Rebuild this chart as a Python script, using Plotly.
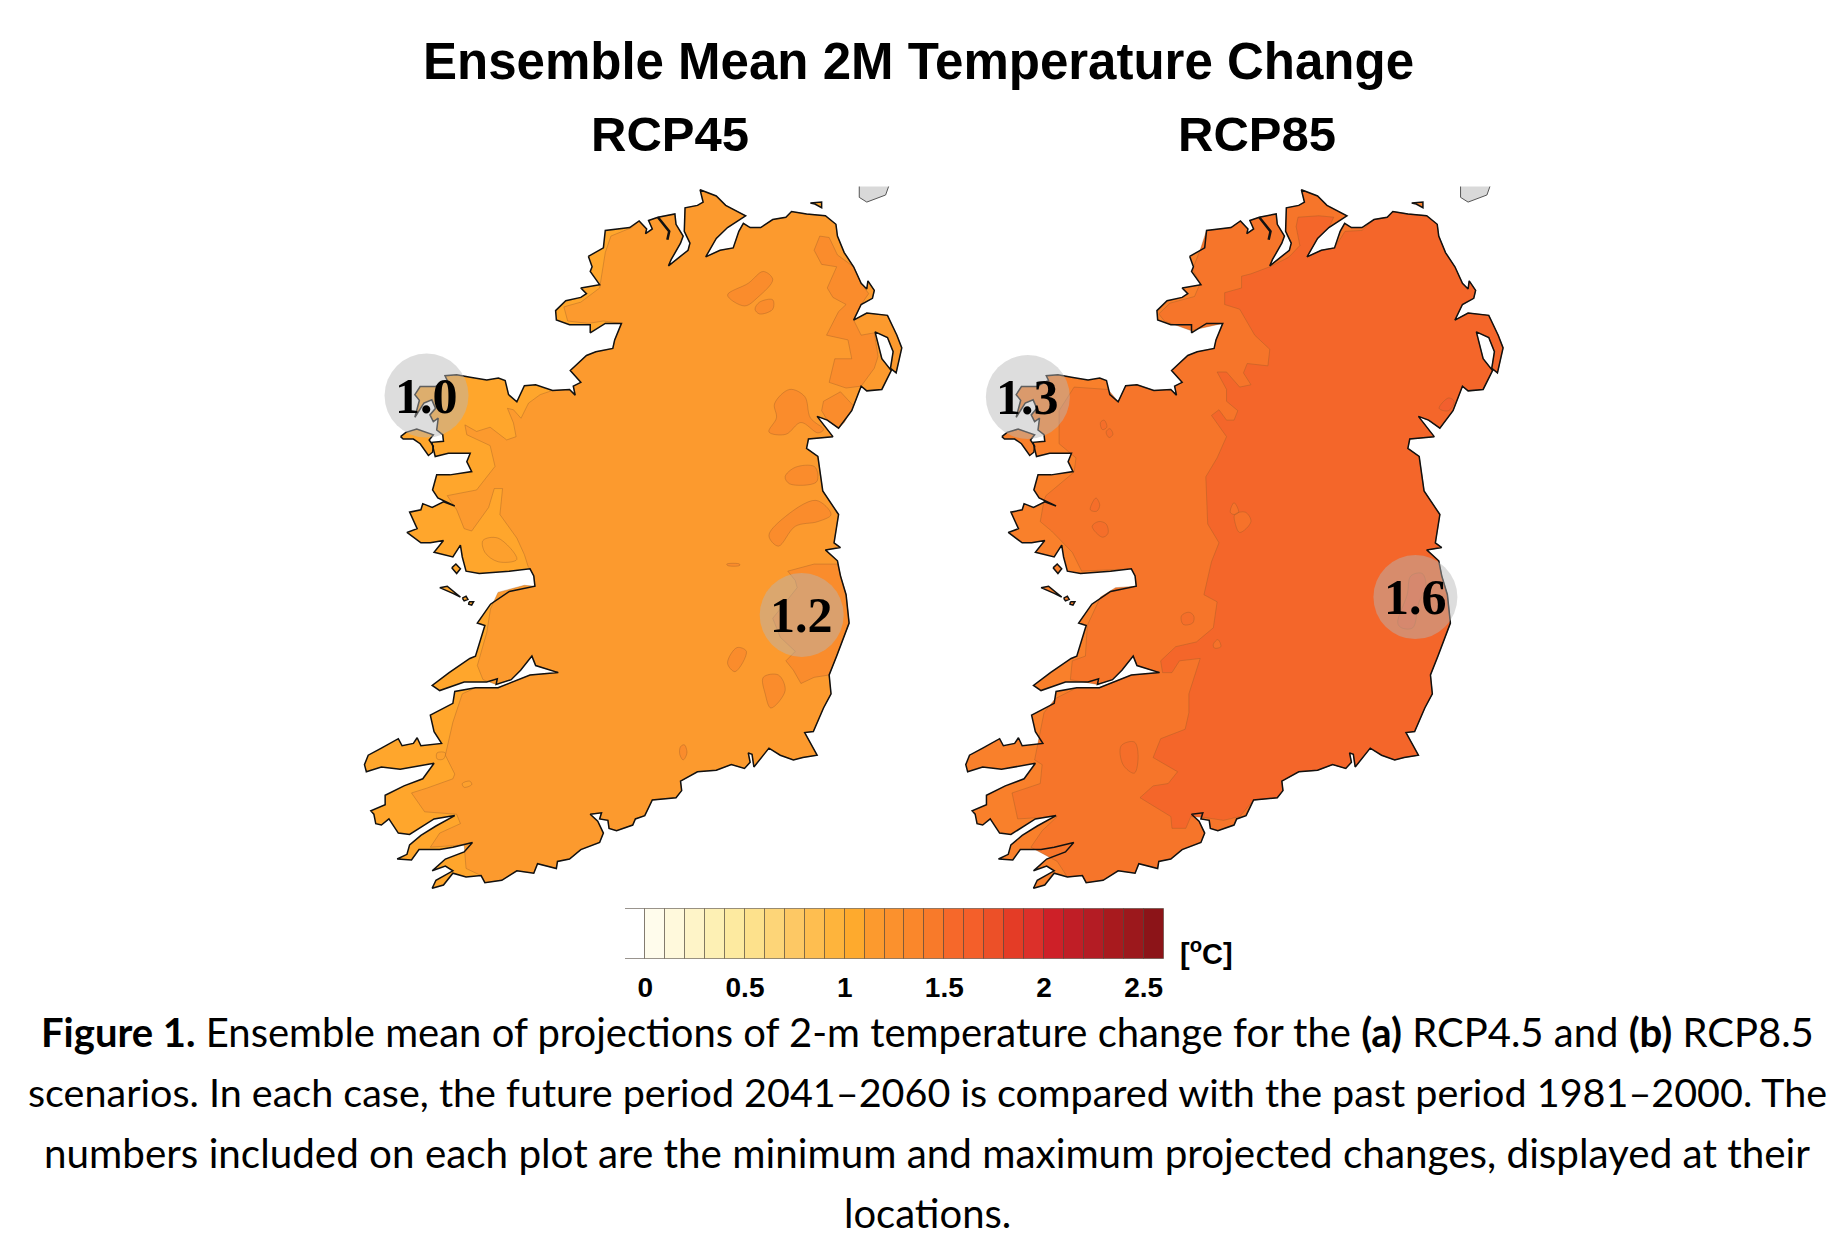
import plotly.graph_objects as go

W, H = 1840, 1246

# Map outlines (map units, y runs downwards)
coast = [
    (660, 183), (700, 165), (705, 128), (770, 122), (795, 108), (815, 125), (812, 135), (830, 125), (820, 107),
    (845, 100), (890, 93), (893, 115), (912, 140), (905, 155), (880, 190), (873, 203), (925, 170), (930, 155),
    (915, 130), (917, 80), (950, 75), (965, 68), (957, 42), (1000, 55), (1025, 75), (1078, 97), (1030, 122),
    (1000, 145), (972, 184), (1010, 170), (1045, 165), (1060, 130), (1072, 113), (1090, 122), (1118, 122),
    (1150, 105), (1185, 100), (1200, 88), (1240, 93), (1290, 97), (1318, 115), (1322, 140), (1340, 175),
    (1365, 205), (1385, 240), (1400, 252), (1403, 235), (1420, 255), (1415, 272), (1385, 285), (1365, 318),
    (1400, 303), (1455, 308), (1480, 350), (1493, 377), (1478, 430), (1463, 420), (1470, 385), (1455, 355),
    (1422, 343), (1440, 400), (1465, 425), (1440, 465), (1400, 468), (1385, 458), (1360, 510), (1325, 547),
    (1295, 530), (1268, 522), (1310, 565), (1245, 570), (1240, 590), (1270, 607), (1283, 680), (1325, 730),
    (1313, 790), (1330, 800), (1290, 805), (1322, 828), (1330, 860), (1345, 900), (1353, 960), (1320, 1030),
    (1300, 1070), (1305, 1110), (1285, 1140), (1258, 1190), (1235, 1192), (1268, 1240), (1230, 1245),
    (1205, 1250), (1170, 1240), (1140, 1225), (1100, 1265), (1095, 1238), (1085, 1235), (1090, 1255),
    (1075, 1268), (1040, 1260), (1000, 1272), (950, 1275), (905, 1295), (908, 1315), (893, 1330), (830, 1335),
    (810, 1368), (785, 1375), (778, 1388), (735, 1400), (715, 1395), (712, 1378), (690, 1375), (695, 1362),
    (665, 1365), (685, 1380), (700, 1405), (690, 1425), (640, 1440), (610, 1460), (578, 1465), (575, 1480),
    (525, 1470), (515, 1490), (470, 1485), (430, 1505), (385, 1510), (375, 1495), (335, 1498), (300, 1490),
    (275, 1515), (245, 1522), (255, 1505), (300, 1485), (280, 1475), (245, 1485), (280, 1460), (330, 1445),
    (352, 1425), (300, 1435), (265, 1440), (210, 1440), (190, 1462), (152, 1460), (178, 1450), (185, 1430),
    (215, 1410), (255, 1390), (305, 1368), (250, 1375), (210, 1395), (185, 1408), (155, 1405), (130, 1375),
    (110, 1388), (95, 1385), (90, 1365), (82, 1358), (120, 1345), (120, 1325), (170, 1305), (220, 1290),
    (250, 1257), (160, 1270), (110, 1265), (70, 1275), (65, 1260), (75, 1240), (110, 1225), (155, 1205),
    (165, 1220), (195, 1215), (205, 1203), (215, 1220), (270, 1215), (250, 1190), (240, 1155), (300, 1130),
    (305, 1105), (360, 1097), (420, 1097), (505, 1070), (580, 1065), (520, 1050), (510, 1030), (480, 1060),
    (455, 1080), (415, 1090), (418, 1078), (390, 1085), (330, 1085), (265, 1103), (245, 1092), (290, 1065),
    (345, 1035), (360, 1030), (385, 965), (365, 960), (400, 920), (450, 893), (518, 882), (515, 860),
    (505, 845), (450, 850), (370, 855), (335, 850), (325, 820), (320, 795), (300, 820), (250, 810), (275, 785),
    (240, 790), (215, 790), (178, 768), (205, 760), (185, 725), (215, 720), (220, 707), (245, 715), (275, 703),
    (305, 712), (260, 695), (246, 678), (257, 646), (292, 646), (350, 639), (337, 618), (346, 600), (288, 600),
    (253, 607), (244, 577), (275, 575), (273, 561), (257, 551), (261, 526), (248, 533), (239, 519), (254, 505),
    (244, 487), (223, 494), (199, 524), (211, 488), (199, 476), (213, 459), (253, 459), (285, 446), (279, 436),
    (310, 434), (346, 439), (390, 445), (421, 441), (439, 446), (448, 476), (470, 491), (490, 457), (520, 455),
    (565, 467), (610, 465), (625, 477), (620, 458), (640, 450), (612, 425), (655, 393), (680, 385), (725, 378),
    (730, 360), (748, 325), (705, 325), (665, 345), (665, 328), (610, 328), (575, 318), (573, 298), (600, 277),
    (640, 270), (655, 262), (640, 250), (690, 243), (665, 215), (670, 205),
]
islands = [
    [(161, 565), (175, 556), (204, 549), (248, 561), (237, 572), (248, 585), (246, 598), (235, 605), (213, 580),
     (195, 570), (168, 570)],
    [(297, 843), (308, 835), (320, 845), (310, 855)],
    [(265, 885), (285, 882), (320, 905), (300, 897)],
    [(325, 907), (335, 903), (340, 910), (330, 913)],
    [(343, 915), (355, 915), (350, 922), (342, 920)],
    [(1250, 70), (1280, 68), (1280, 80), (1262, 72)],
]
scotland = [(1458, 35), (1450, 53), (1400, 68), (1380, 58), (1380, 35)]
swilly = [(845, 100), (875, 130), (870, 148)]

# RCP45 contours
west45_a = [(335, 1480), (330, 1430), (240, 1435), (265, 1405), (320, 1385), (310, 1365), (225, 1360), (190, 1320),
            (230, 1310), (300, 1290), (305, 1280), (280, 1240), (300, 1170), (325, 1110)]
west45_b = [(380, 1080), (365, 1050), (390, 980), (400, 930), (420, 895), (490, 880)]
west45_c = [(500, 840), (490, 815), (470, 780), (425, 730), (432, 675), (410, 675), (395, 715), (350, 765), (330, 760),
            (310, 720), (285, 690), (363, 678), (412, 628), (399, 584), (337, 561), (332, 540), (363, 554), (399, 545),
            (443, 572), (468, 565), (461, 536), (445, 505), (461, 508), (481, 526), (501, 494), (532, 476)]
west45_d = [(700, 320), (660, 325), (605, 320), (595, 290), (640, 280), (690, 250), (705, 175), (720, 140), (775, 122)]
dark45_coastal = [
    [(1260, 170), (1275, 140), (1300, 143), (1322, 180), (1365, 205), (1385, 240), (1405, 262), (1385, 285), (1365, 318),
     (1385, 350), (1420, 345), (1430, 395), (1420, 420), (1385, 458), (1345, 462), (1300, 450), (1315, 400), (1360, 400),
     (1350, 360), (1293, 350), (1325, 300), (1345, 285), (1310, 270), (1295, 250), (1320, 205), (1280, 200)],
    [(1285, 490), (1330, 470), (1365, 500), (1340, 535), (1325, 547), (1295, 530), (1280, 510)],
    [(1190, 850), (1260, 835), (1322, 835), (1345, 900), (1353, 960), (1320, 1030), (1300, 1070), (1260, 1075), (1225, 1088),
     (1205, 1060), (1185, 1040), (1210, 1020), (1170, 990), (1150, 950), (1180, 920), (1215, 885), (1210, 870)],
]
dark45 = [
    [(1030, 265), (1085, 240), (1125, 215), (1150, 232), (1110, 270), (1075, 288)],
    [(1103, 295), (1115, 280), (1150, 275), (1150, 295), (1115, 305)],
    [(1155, 495), (1195, 465), (1235, 480), (1250, 525), (1285, 550), (1270, 557), (1225, 535), (1185, 560), (1140, 555),
     (1160, 525)],
    [(1183, 650), (1210, 630), (1260, 628), (1270, 645), (1265, 662), (1195, 665)],
    [(1140, 775), (1175, 740), (1265, 700), (1305, 730), (1270, 745), (1210, 755), (1165, 797)],
    [(1028, 835), (1062, 835), (1062, 838), (1030, 838)],
    [(1030, 1045), (1055, 1012), (1080, 1020), (1050, 1063)],
    [(1125, 1075), (1165, 1070), (1183, 1103), (1145, 1140), (1130, 1110)],
    [(905, 1222), (915, 1218), (922, 1235), (912, 1250), (903, 1238)],
]
light45 = [
    [(380, 785), (420, 780), (470, 825), (420, 830), (385, 810)],
    [(325, 1300), (345, 1295), (350, 1302), (330, 1308)],
    [(258, 1235), (280, 1235), (275, 1248), (258, 1248)],
]

# RCP85 contours
west85_a = [(308, 1465), (238, 1435), (268, 1400), (308, 1370), (203, 1375), (188, 1320), (263, 1300), (268, 1260),
            (248, 1250), (273, 1150), (303, 1120)]
west85_b = [(343, 1080), (348, 1040), (383, 1030), (388, 965), (423, 905), (463, 885)]
west85_c = [(503, 845), (373, 850), (348, 810), (293, 765), (263, 745), (273, 700), (278, 690), (353, 640), (358, 610),
            (313, 580), (313, 510), (353, 460), (443, 465)]
west85_d = [(663, 340), (593, 320), (578, 305), (608, 282), (673, 268), (688, 240), (668, 210), (690, 165)]
east85_a = [(793, 1370), (750, 1378), (700, 1372), (663, 1370), (650, 1395), (613, 1395), (610, 1370), (528, 1330),
            (563, 1305), (603, 1300), (628, 1275), (563, 1245), (583, 1205), (648, 1185), (658, 1150), (658, 1110),
            (688, 1035), (633, 1040), (613, 1065), (588, 1065), (583, 1040), (623, 1010), (678, 1000), (723, 970),
            (733, 915), (698, 900), (718, 830), (738, 790), (708, 750), (703, 650), (733, 610), (758, 565), (718, 520),
            (738, 508), (758, 530), (778, 530), (788, 510), (758, 490), (758, 465), (733, 428), (758, 428), (793, 460),
            (823, 455), (803, 430), (813, 410), (868, 415), (873, 380), (833, 350), (793, 295), (753, 285), (753, 260),
            (798, 250), (798, 225), (823, 220), (873, 205), (923, 185), (953, 160), (943, 120), (948, 100), (1003, 97),
            (1043, 100)]
east85_b = [(1073, 130), (1118, 128)]
dark85 = [
    [(478, 1220), (513, 1212), (523, 1240), (513, 1278), (483, 1260)],
    [(638, 945), (658, 937), (671, 945), (668, 960), (643, 963)],
    [(423, 535), (433, 530), (440, 545), (428, 550)],
    [(438, 555), (448, 548), (456, 560), (446, 567)],
    [(396, 720), (411, 695), (421, 710), (413, 723)],
    [(401, 755), (418, 745), (438, 750), (443, 770), (428, 778)],
]
light85 = [
    [(768, 725), (778, 705), (790, 725), (778, 730)],
    [(780, 730), (808, 725), (823, 745), (793, 768), (780, 745)],
    [(723, 1005), (735, 995), (743, 1010), (726, 1013)],
]
red85 = [
    [(1323, 505), (1348, 483), (1363, 490), (1348, 510)],
    [(1213, 960), (1238, 900), (1248, 860), (1278, 855), (1288, 880), (1268, 920), (1253, 970), (1223, 970)],
]

# Minimum and maximum of each scenario
labels45 = ["1.0", "1.2"]
labels_x45 = [230, 1227]
labels_y45 = [478, 943]
labels85 = ["1.3", "1.6"]
labels_x85 = [230, 1260]
labels_y85 = [481, 905]

# Colour bar
levels = [-0.05 + 0.1 * i for i in range(27)]
level_colors = [
    "#ffffff", "#fffcec", "#fff9dc", "#fef4c8", "#fdf0b4", "#fdeaa0", "#fde18c", "#fdd578", "#fdc864", "#febe50",
    "#feb43c", "#feaa2d", "#fc9a2e", "#fb912d", "#fa872b", "#f87a2a", "#f6682a", "#f45f2a", "#ec5028", "#e43c26",
    "#dc302a", "#ce2028", "#c01e26", "#b41c24", "#a81a1e", "#9c181c", "#8c1418",
]
tick_vals = [0, 0.5, 1, 1.5, 2, 2.5]
tick_text = ["0", "0.5", "1", "1.5", "2", "2.5"]

title = "Ensemble Mean 2M Temperature Change"
caption = [
    "<b>Figure 1.</b> Ensemble mean of projections of 2-m temperature change for the <b>(a)</b> RCP4.5 and <b>(b)</b> RCP8.5",
    "scenarios. In each case, the future period 2041–2060 is compared with the past period 1981–2000. The",
    "numbers included on each plot are the minimum and maximum projected changes, displayed at their",
    "locations.",
]
caption_y = [1032, 1091, 1152, 1213]
caption_size = [40, 39.5, 40.4, 40]

SANS = "Liberation Sans"
SERIF = "Liberation Serif"
CONTOUR = "rgba(150,90,40,0.35)"


def part(a, b):
    return coast[coast.index(a):coast.index(b) + 1]


def join(polys):
    xs, ys = [], []
    for poly in polys:
        xs += [p[0] for p in poly] + [poly[0][0], None]
        ys += [p[1] for p in poly] + [poly[0][1], None]
    return xs, ys


def px_x(a, b):
    return [a / W, b / W]


def px_y(a, b):
    return [1 - b / H, 1 - a / H]


fig = go.Figure()


def add_fill(polys, color, ax, line=CONTOUR, width=1, shape="linear"):
    xs, ys = join(polys)
    fig.add_trace(go.Scatter(x=xs, y=ys, mode="lines", fill="toself", fillcolor=color, hoverinfo="skip",
                             line=dict(color=line, width=width, shape=shape), xaxis="x" + ax, yaxis="y" + ax))


def add_line(points, color, width, ax):
    fig.add_trace(go.Scatter(x=[p[0] for p in points], y=[p[1] for p in points], mode="lines", hoverinfo="skip",
                             line=dict(color=color, width=width), xaxis="x" + ax, yaxis="y" + ax))


# left map
add_fill([coast] + islands, "#ffa62c", "", line="rgba(0,0,0,0)")
add_fill([part((795, 108), (375, 1495)) + west45_a + part((360, 1097), (415, 1090)) + west45_b
          + part((518, 882), (505, 845)) + west45_c + part((565, 467), (748, 325)) + west45_d], "#fc9a2e", "")
add_fill(dark45_coastal, "#fa8c2c", "")
add_fill(dark45, "#fa8c2c", "", shape="spline")
add_fill(light45, "#fda02d", "", shape="spline")

# right map
add_fill([coast] + islands, "#f9802b", "2", line="rgba(0,0,0,0)")
add_fill([part((705, 128), (335, 1498)) + west85_a + part((360, 1097), (415, 1090)) + west85_b
          + part((518, 882), (505, 845)) + west85_c + part((470, 491), (748, 325)) + west85_d], "#f6752a", "2")
add_fill([part((1150, 105), (830, 1335)) + east85_a + part((1030, 122), (1045, 165)) + east85_b], "#f4662a", "2")
add_fill(dark85, "#f56e2a", "2", shape="spline")
add_fill(light85, "#f6722a", "2", shape="spline")
add_fill(red85, "#f25f2e", "2", shape="spline")

annotations = [
    dict(text="<b>%s</b>" % title, x=918 / W, y=1 - 62 / H, font=dict(family=SANS, size=51, color="black")),
    dict(text="<b>RCP45</b>", x=670 / W, y=1 - 134 / H, font=dict(family=SANS, size=49, color="black")),
    dict(text="<b>RCP85</b>", x=1257 / W, y=1 - 134 / H, font=dict(family=SANS, size=49, color="black")),
    dict(text="<b>[<sup>o</sup>C]</b>", x=1206 / W, y=1 - 952 / H, font=dict(family=SANS, size=29, color="black")),
]
for line, y, size in zip(caption, caption_y, caption_size):
    annotations.append(dict(text=line, x=927 / W, y=1 - y / H, font=dict(family="Lato", size=size, color="black")))
for a in annotations:
    a.update(xref="paper", yref="paper", showarrow=False, xanchor="center", yanchor="middle")

for ax, labels, lx, ly in [("", labels45, labels_x45, labels_y45), ("2", labels85, labels_x85, labels_y85)]:
    add_fill([scotland], "#d9d9d9", ax, line="rgba(0,0,0,0)")
    add_line(scotland, "#555555", 1, ax)
    xs, ys = join([coast] + islands)
    fig.add_trace(go.Scatter(x=xs, y=ys, mode="lines", line=dict(color="#111111", width=1.5), hoverinfo="skip",
                             xaxis="x" + ax, yaxis="y" + ax))
    add_line(swilly, "#111111", 2.5, ax)
    fig.add_trace(go.Scatter(x=lx, y=ly, mode="markers", hoverinfo="skip", xaxis="x" + ax, yaxis="y" + ax,
                             marker=dict(size=84, color="rgba(182,182,182,0.47)", line=dict(width=0))))
    for x, y, label in zip(lx, ly, labels):
        annotations.append(dict(text="<b>%s</b>" % label, x=x, y=y, xref="x" + ax, yref="y" + ax, showarrow=False,
                                font=dict(family=SERIF, size=50, color="black")))

fig.add_trace(go.Bar(x=levels, y=[1] * len(levels), width=0.1, marker=dict(color=level_colors,
                     line=dict(color="rgba(70,60,50,0.55)", width=1)), xaxis="x3", yaxis="y3"))

hidden = dict(visible=False, showgrid=False, zeroline=False)
fig.update_layout(
    width=W, height=H, margin=dict(l=0, r=0, t=0, b=0), showlegend=False, paper_bgcolor="white", plot_bgcolor="rgba(0,0,0,0)",
    bargap=0,
    xaxis=dict(hidden, domain=px_x(340, 930), range=[0, 1568]),
    yaxis=dict(hidden, domain=px_y(170, 910), range=[1568, 0]),
    xaxis2=dict(hidden, domain=px_x(941.3, 1531.3), range=[0, 1568]),
    yaxis2=dict(hidden, domain=px_y(170, 910), range=[1568, 0]),
    xaxis3=dict(domain=px_x(625, 1164), range=[-0.102, 2.602], tickvals=tick_vals, ticktext=tick_text, showgrid=False,
                zeroline=False, ticks="outside", ticklen=2, tickcolor="rgba(0,0,0,0)",
                tickfont=dict(family=SANS, size=28, color="black", weight="bold"), anchor="y3", showline=False),
    yaxis3=dict(hidden, domain=px_y(908, 960), range=[-0.02, 1.02]),
    annotations=annotations,
)

fig.write_html("out.html", config={"displayModeBar": False}, post_script="document.body.style.margin = '0';")
